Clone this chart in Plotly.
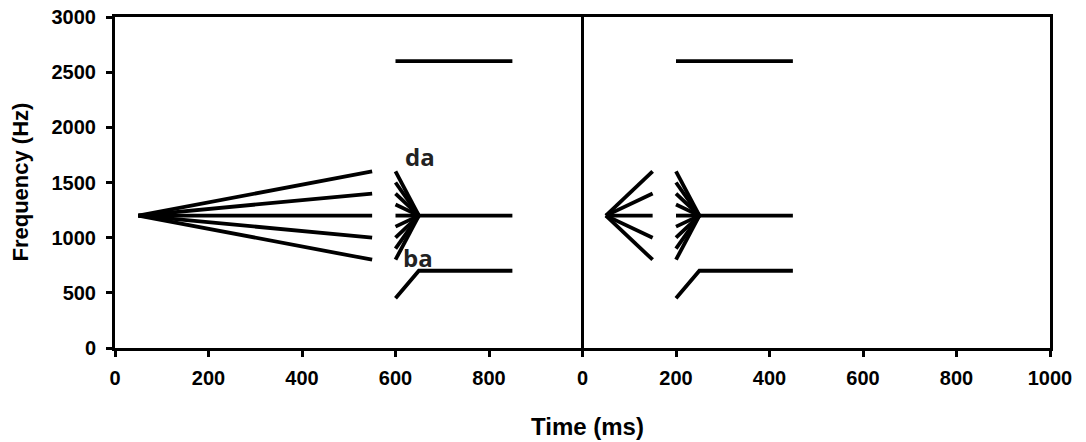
import plotly.graph_objects as go

# Time in ms (right panel is offset by 1000 ms on a shared axis)
panel_offsets = [0, 1000]
fan_t = [50, 550, 150]          # fan start, left fan end, right fan end (relative)
fan_start_hz = 1200
fan_end_hz = [1600, 1400, 1200, 1000, 800]

trans_t = [600, 650, 850]        # left panel transition onset, end, steady end
trans_t_right = [200, 250, 450]  # right panel (relative to its own 0)
f2_onset_hz = [1600, 1500, 1400, 1300, 1200, 1100, 1000, 900, 800]
f2_steady_hz = 1200
f1_hz = [450, 700, 700]
f3_hz = 2600

x_tickvals = [0, 200, 400, 600, 800, 1000, 1200, 1400, 1600, 1800, 2000]
x_ticktext = ["0", "200", "400", "600", "800", "0", "200", "400", "600", "800", "1000"]
y_tickvals = [0, 500, 1000, 1500, 2000, 2500, 3000]

labels = [("da", 652, 1740), ("ba", 648, 820)]

LW = 3.8
fig = go.Figure()


def seg(xs, ys):
    fig.add_trace(go.Scatter(x=xs, y=ys, mode="lines",
                             line=dict(color="black", width=LW),
                             hoverinfo="skip", showlegend=False))


# Left panel: long fan from a common point
for hz in fan_end_hz:
    seg([fan_t[0], fan_t[1]], [fan_start_hz, hz])

# Right panel: short fan
off = panel_offsets[1]
for hz in fan_end_hz:
    seg([off + fan_t[0], off + fan_t[2]], [fan_start_hz, hz])

# Formant transitions for both panels
for off, tt in [(0, trans_t), (panel_offsets[1], trans_t_right)]:
    t0, t1, t2 = [off + t for t in tt]
    for hz in f2_onset_hz:
        seg([t0, t1], [hz, f2_steady_hz])
    seg([t1, t2], [f2_steady_hz, f2_steady_hz])
    seg([t0, t1, t2], f1_hz)
    seg([t0, t2], [f3_hz, f3_hz])

for txt, x, y in labels:
    fig.add_annotation(x=x, y=y, text=txt, showarrow=False,
                       font=dict(family="Open Sans", size=24, color="#222222", weight="bold"))

# Axis titles
title_font = dict(family="Liberation Sans", size=24, color="black", weight="bold")
fig.add_annotation(text="Time (ms)", xref="paper", yref="paper", x=0.5, y=0,
                   xanchor="center", yanchor="middle", xshift=5, yshift=-78,
                   showarrow=False, font=title_font)
fig.add_annotation(text="Frequency (Hz)", xref="paper", yref="paper", x=0, y=0.5,
                   xanchor="center", yanchor="middle", xshift=-95, textangle=-90,
                   showarrow=False, font=dict(title_font, size=22))

# Divider between the two panels
fig.add_shape(type="line", x0=1000, x1=1000, y0=0, y1=3000, xref="x", yref="y",
              line=dict(color="black", width=3))

axis_common = dict(showgrid=False, zeroline=False, showline=True, linecolor="black",
                   linewidth=3, mirror=True, ticks="outside", ticklen=6, tickwidth=3,
                   tickcolor="black", automargin=False,
                   tickfont=dict(family="Liberation Sans", size=20, weight="bold"))

fig.update_layout(
    width=1086, height=442,
    margin=dict(l=115, r=36, t=17, b=94),
    paper_bgcolor="white", plot_bgcolor="white",
    font=dict(family="Liberation Sans", color="black"),
    xaxis=dict(range=[0, 2000], tickvals=x_tickvals, ticktext=x_ticktext,
               ticklabelstandoff=4, **axis_common),
    yaxis=dict(range=[0, 3000], tickvals=y_tickvals, ticklabelstandoff=6,
               **axis_common),
)

fig.write_html("out.html")
